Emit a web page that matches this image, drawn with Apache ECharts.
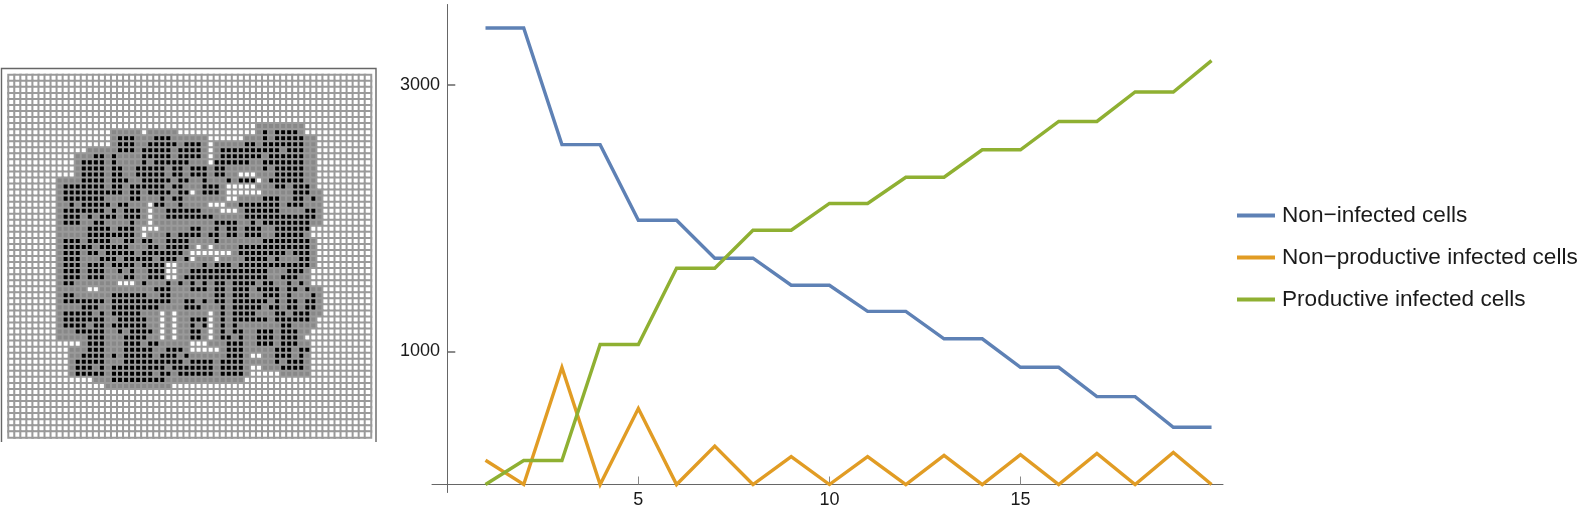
<!DOCTYPE html>
<html><head><meta charset="utf-8">
<style>html,body{margin:0;padding:0;background:#fff}#c{width:1592px;height:515px}</style>
<script src="https://cdn.jsdelivr.net/npm/echarts@6/dist/echarts.min.js"></script>
</head><body><div id="c"></div>
<script>
const blank = ".......... .......... .......... .......... .......... ..........";
const latticeRows = [
blank,blank,blank,blank,blank,blank,blank,blank,
".......... .......... .......... .......... .++++++++. ..........",
".......... .......+++ ++.+++++.. .......... .+#+####+. ..........",
".......... .......+## #+++###+++ +++......+ ++#+#####+ +.........",
".......... .......+## #++#####+# ##+.+++++# #+#######+ +.........",
".......... ...+++++## #+#####+## ##+.+##### #####+###+ +.........",
".......... .+++##+#++ ++#####+## ##+.+##### ##+######+ +.........",
".......... .+####+#++ ++#+###### +++.###### ++#######+ +.........",
".......... .+####+##+ +#####+##+ ###+##++++ ++#+#####+ +.........",
".......... .+####+##+ +#####+##+ ###+##++.. .+++#####+ +.........",
"........++ ++####+### ++#####+## ++#+++#+## #.+######+ +.........",
"........+# ######+##+ ######+##+ ++###+.... .+++##+### +.........",
"........+# #########+ ##+####+## .+###+.... ..+++++### ++........",
"........+# ######++++ ##+++#+##+ ++++++..++ ++###++##+ #+........",
"........++ #+#####+## +++.##++#+ +++...++## #####+###+ ++........",
"........+# ######+#+# ##+.++#### ##+++...+# #####++++# #+........",
"........+# ##+#+###+# ##+.++#### ####+++++# ########## #+........",
"........+# ##++##++++ #++.++++++ ++++####++ #+######## ++........",
"........++ +++####+## #+...+++++ ##++#+##+# ##++###### ..........",
"........++ +++####### #+.+++#+## ##+##+##+# ##++#####+ ..........",
"........+# ##+####++# #+##++#### ++++#+++++ ++######## +.........",
"........+# ####+##### +++##+#### +.+.++++## ########## +.........",
"........+# ##+##+#### #+#######+ .......+## ######+### +.........",
"........+# ##+++###+# ####+###+# .+++.++++# ###+#+++## +.........",
"........+# ##+###+### #+####..++ ++#+###+## ########## +.........",
"........+# ##+###++#+ #++###..++ ########## ###+++###+ ..........",
"........+# ##+###+++# #++###..+# ########## ###++###++ ..........",
"........+# #+++++++.. .+#+++#+#+ #+#+##+### #+##++#+#+ ..........",
"........++ +++..+++++ ++++###+++ ###+##+### +####+##+# ++........",
"........+# #++++++### ###++##+++ ++++##+### ++###+#+++ #+........",
"........+# ######+### #######++# #+#+##+### ###+#+##+# #+........",
"........++ ++###++### #####++++# ##+++#+### ##+##+##+# #+........",
"........+# ####+#+### ##+++.+.++ +++.+#+### #+++##+### ++........",
"........+# ######++## ###++.+.++ ###.+#+### ###+###### +.........",
"........+# ###+##+### ###++.+.++ #+#.+#+#++ +++++##+++ +.........",
"........++ +#####++#+ ####+.+.++ ##+.+#+##+ +###+###++ ..........",
"........++ +++###+++# ###++.+.++ ##+.+##+#+ +###+###+. ..........",
".......... ..+###+++# ##+##+++++ ...+++###+ +###+###++ ..........",
".......... +++###+++# ####++###+ .....+###+ ++++###+## ..........",
".......... ++####+#+# ####+###+# ++++++###+ ..++###+#+ ..........",
".......... +#####+++# #########+ ####+####+ ++++#+###+ ..........",
".......... +###+#+### ######+### ####+####+ ..+++####+ ..........",
".......... +#####+### ####+##+## ####+####+ .....+++++ ..........",
".......... ....+++### ######++++ +++++++++. .......... ..........",
".......... ......++++ +++++++... .......... .......... ..........",
blank,blank,blank,blank,blank,blank,blank,blank
];
const latticeKeys = ".+#";
const latticeColors = ['#ffffff','#888888','#000000'];

const steps = [1,2,3,4,5,6,7,8,9,10,11,12,13,14,15,16,17,18,19,20];
const nonInfected = [3428,3428,2552,2552,1984,1984,1699,1699,1496,1496,1300,1300,1094,1094,880,880,660,660,430,430];
const nonProductive = [182,0,878,0,570,0,288,0,210,0,210,0,218,0,225,0,233,0,240,0];
const productive = [0,180,180,1051,1051,1624,1624,1909,1909,2110,2110,2307,2307,2513,2513,2726,2726,2947,2947,3183];
const seriesNames = ["Non\u2212infected cells","Non\u2212productive infected cells","Productive infected cells"];
const seriesColors = ["#5e81b5","#e19c24","#8fb032"];
const xTicks = [5,10,15];
const yTicks = [1000,3000];

const idx = Array.from({length:60},(_,i)=>i);
const cells = [];
latticeRows.forEach((row,r)=>{
  row.replace(/ /g,'').split('').forEach((ch,c)=>{
    const s = latticeKeys.indexOf(ch);
    cells.push({value:[c,r,s],itemStyle:{color:latticeColors[s]}});
  });
});
const lineSeries = [nonInfected,nonProductive,productive].map((vals,i)=>({
  type:'line',name:seriesNames[i],xAxisIndex:1,yAxisIndex:1,
  data:steps.map((s,k)=>[s,vals[k]]),
  showSymbol:false,symbol:'none',clip:false,
  lineStyle:{width:3.4,color:seriesColors[i],join:'miter'},
  itemStyle:{color:seriesColors[i]},
  emphasis:{disabled:true},silent:true,z:3+i
}));
const axisFont = {fontFamily:'"Liberation Sans"',fontSize:18,color:'#1a1a1a'};
const chart = echarts.init(document.getElementById('c'),null,{renderer:'canvas'});
chart.setOption({
  animation:false,backgroundColor:'#fff',
  grid:[
    {left:8.5,top:75,width:362.5,height:362.5},
    {left:432,top:4.5,width:791,height:488}
  ],
  xAxis:[
    {type:'category',gridIndex:0,data:idx,show:false},
    {type:'value',gridIndex:1,min:-0.4,max:20.3,splitLine:{show:false},
     axisLine:{onZero:true,lineStyle:{color:'#666',width:1}},
     axisTick:{inside:true,length:8,customValues:xTicks,lineStyle:{color:'#888',width:1}},
     axisLabel:{customValues:xTicks,margin:-1,formatter:v=>String(v),...axisFont}}
  ],
  yAxis:[
    {type:'category',gridIndex:0,data:idx,show:false,inverse:true},
    {type:'value',gridIndex:1,min:-60,max:3604,splitLine:{show:false},
     axisLine:{onZero:true,lineStyle:{color:'#666',width:1}},
     axisTick:{inside:true,length:8,customValues:yTicks,lineStyle:{color:'#666',width:1.5}},
     axisLabel:{customValues:yTicks,margin:-8,formatter:v=>String(v),...axisFont}}
  ],
  legend:{left:1232,top:199,orient:'vertical',icon:'rect',itemWidth:38,itemHeight:4,itemGap:19,
    data:seriesNames,selectedMode:false,
    textStyle:{fontFamily:'"Liberation Sans"',fontSize:22.6,color:'#1a1a1a',padding:[0,0,0,2],lineHeight:23}},
  graphic:[{type:'polyline',silent:true,
    shape:{points:[[1.5,442],[1.5,68.5],[376,68.5],[376,442]]},
    style:{fill:null,stroke:'#666',lineWidth:1.4}}],
  series:[
    {type:'heatmap',xAxisIndex:0,yAxisIndex:0,data:cells,progressive:0,silent:true,
     emphasis:{disabled:true},
     itemStyle:{borderColor:'#9a9a9a',borderWidth:2}},
    ...lineSeries
  ]
});
</script></body></html>
